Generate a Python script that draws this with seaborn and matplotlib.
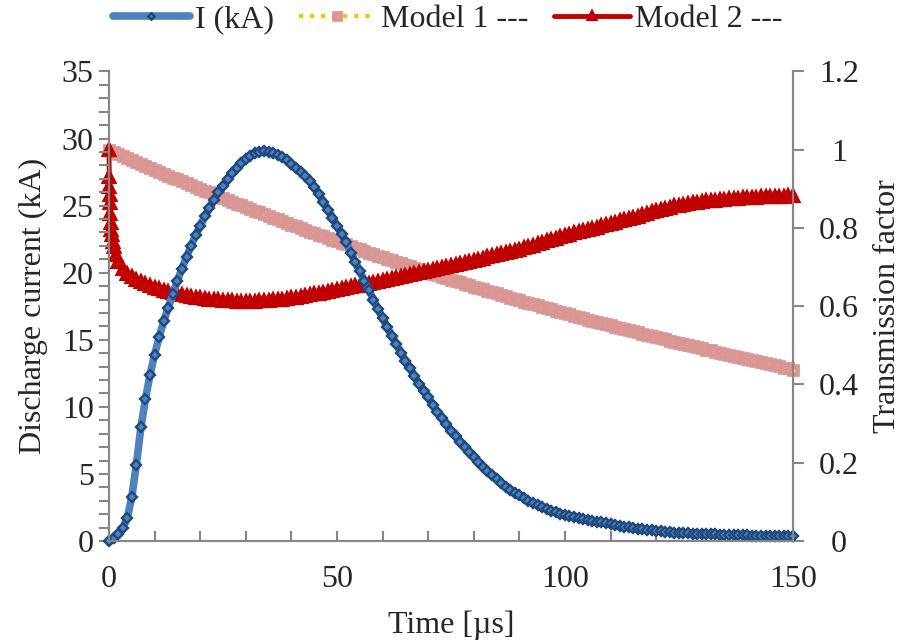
import numpy as np
import matplotlib
matplotlib.use('Agg')
import matplotlib.pyplot as plt
from matplotlib.ticker import MultipleLocator
import seaborn as sns

# time grid (us) and values
time_us = np.arange(0, 151)

current_ka = [0.00, 0.20, 0.50, 0.95, 1.70, 3.30, 5.70, 8.50, 10.60, 12.40,
              13.90, 15.20, 16.40, 17.40, 18.40, 19.40, 20.30, 21.20, 22.00, 22.80,
              23.50, 24.20, 24.80, 25.40, 26.00, 26.50, 27.00, 27.40, 27.80, 28.20,
              28.50, 28.70, 28.90, 29.00, 29.05, 29.00, 28.95, 28.80, 28.60, 28.40,
              28.10, 27.80, 27.50, 27.20, 26.85, 26.40, 25.90, 25.30, 24.70, 24.10,
              23.50, 22.90, 22.30, 21.50, 20.80, 20.10, 19.40, 18.70, 18.00, 17.30,
              16.60, 15.95, 15.30, 14.70, 14.05, 13.45, 12.90, 12.30, 11.70, 11.20,
              10.70, 10.15, 9.65, 9.20, 8.75, 8.20, 7.80, 7.40, 7.00, 6.60,
              6.25, 5.90, 5.55, 5.20, 4.90, 4.60, 4.30, 4.05, 3.80, 3.60,
              3.40, 3.20, 3.00, 2.80, 2.65, 2.50, 2.38, 2.26, 2.15, 2.05,
              1.96, 1.87, 1.79, 1.71, 1.64, 1.57, 1.50, 1.44, 1.38, 1.32,
              1.25, 1.19, 1.13, 1.08, 1.03, 0.98, 0.93, 0.88, 0.84, 0.80,
              0.76, 0.72, 0.68, 0.65, 0.63, 0.61, 0.59, 0.57, 0.55, 0.53,
              0.52, 0.51, 0.50, 0.49, 0.48, 0.47, 0.46, 0.45, 0.44, 0.43,
              0.42, 0.41, 0.41, 0.40, 0.40, 0.39, 0.39, 0.38, 0.38, 0.37, 0.37]

model1 = [1.000, 0.995, 0.990, 0.984, 0.979, 0.974, 0.969, 0.964, 0.958, 0.953,
          0.948, 0.943, 0.938, 0.933, 0.929, 0.924, 0.919, 0.914, 0.909, 0.905,
          0.900, 0.895, 0.891, 0.886, 0.881, 0.877, 0.872, 0.867, 0.862, 0.858,
          0.853, 0.849, 0.844, 0.840, 0.835, 0.831, 0.826, 0.822, 0.817, 0.813,
          0.808, 0.804, 0.800, 0.795, 0.791, 0.787, 0.783, 0.779, 0.774, 0.770,
          0.766, 0.762, 0.758, 0.754, 0.750, 0.746, 0.741, 0.737, 0.733, 0.729,
          0.725, 0.721, 0.717, 0.713, 0.710, 0.706, 0.702, 0.698, 0.694, 0.690,
          0.686, 0.682, 0.679, 0.675, 0.672, 0.668, 0.664, 0.661, 0.657, 0.654,
          0.650, 0.647, 0.643, 0.640, 0.636, 0.633, 0.629, 0.626, 0.622, 0.619,
          0.615, 0.612, 0.608, 0.605, 0.602, 0.599, 0.595, 0.592, 0.589, 0.585,
          0.582, 0.579, 0.576, 0.573, 0.569, 0.566, 0.563, 0.560, 0.557, 0.554,
          0.551, 0.548, 0.545, 0.542, 0.539, 0.536, 0.533, 0.530, 0.527, 0.524,
          0.521, 0.518, 0.515, 0.512, 0.509, 0.507, 0.504, 0.501, 0.498, 0.495,
          0.492, 0.489, 0.487, 0.484, 0.481, 0.479, 0.476, 0.473, 0.470, 0.468,
          0.465, 0.462, 0.460, 0.457, 0.454, 0.452, 0.449, 0.446, 0.443, 0.441, 0.438]

# model 2 is sampled more finely right after t=0
time_model2 = np.concatenate([[0, 0.05, 0.1, 0.15, 0.2, 0.3, 0.4, 0.5, 0.6, 0.8, 1.0, 1.5],
                              np.arange(2, 151)])
model2 = [1.000, 0.930, 0.905, 0.885, 0.865, 0.835, 0.812, 0.795, 0.782, 0.765, 0.752, 0.730,
          0.713, 0.695, 0.683, 0.674, 0.667, 0.661, 0.656, 0.651,
          0.647, 0.643, 0.640, 0.636, 0.633, 0.631, 0.628, 0.626, 0.624, 0.622,
          0.620, 0.619, 0.617, 0.616, 0.615, 0.614, 0.613, 0.613, 0.612, 0.612,
          0.612, 0.612, 0.612, 0.613, 0.613, 0.614, 0.615, 0.616, 0.617, 0.618,
          0.620, 0.622, 0.624, 0.626, 0.628, 0.630, 0.632, 0.634, 0.637, 0.639,
          0.642, 0.644, 0.646, 0.649, 0.651, 0.653, 0.656, 0.658, 0.660, 0.663,
          0.665, 0.667, 0.670, 0.672, 0.675, 0.677, 0.680, 0.682, 0.685, 0.687,
          0.690, 0.693, 0.695, 0.698, 0.700, 0.703, 0.706, 0.708, 0.711, 0.713,
          0.716, 0.719, 0.722, 0.725, 0.728, 0.730, 0.733, 0.736, 0.739, 0.742,
          0.745, 0.748, 0.752, 0.755, 0.759, 0.762, 0.766, 0.769, 0.773, 0.776,
          0.780, 0.783, 0.786, 0.789, 0.792, 0.795, 0.798, 0.801, 0.804, 0.807,
          0.810, 0.813, 0.817, 0.820, 0.823, 0.826, 0.829, 0.833, 0.836, 0.840,
          0.843, 0.846, 0.849, 0.852, 0.855, 0.857, 0.859, 0.861, 0.863, 0.865,
          0.866, 0.868, 0.869, 0.870, 0.871, 0.872, 0.873, 0.874, 0.875, 0.876,
          0.876, 0.877, 0.877, 0.878, 0.878, 0.879, 0.879, 0.880, 0.880, 0.881, 0.881]

sns.set_theme(style='white')
plt.rcParams['font.family'] = ['Liberation Serif', 'DejaVu Serif']
FS = 23
axis_grey = '#868686'

fig = plt.figure(figsize=(9.01, 6.41), dpi=100)
ax = fig.add_axes([0.121, 0.156, 0.759, 0.7325])
ax2 = ax.twinx()

# transmission factors (right axis)
sns.lineplot(x=time_us, y=model1, ax=ax2, color='#FFC000', linestyle=':', linewidth=3,
             marker='s', markersize=6, markerfacecolor='#FAC090', markeredgecolor='#D99694',
             markeredgewidth=3.4, label='Model 1 ---', clip_on=False)
sns.lineplot(x=time_model2, y=model2, ax=ax2, color='#C00000', linewidth=3.5,
             marker='^', markersize=6.5, markerfacecolor='#FF0000', markeredgecolor='#C00000',
             markeredgewidth=3, label='Model 2 ---', clip_on=False)

# discharge current (left axis), drawn on top
sns.lineplot(x=time_us, y=current_ka, ax=ax, color='#4F81BD', linewidth=5.5,
             marker='D', markersize=5, markerfacecolor='#4F81BD', markeredgecolor='#1F497D',
             markeredgewidth=1.7, label='I (kA)', clip_on=False)

ax.set_zorder(ax2.get_zorder() + 1)
ax.patch.set_visible(False)

ax.set_xlim(0, 150)
ax.set_ylim(0, 35)
ax2.set_ylim(0, 1.2)

ax.xaxis.set_major_locator(MultipleLocator(50))
ax.xaxis.set_minor_locator(MultipleLocator(10))
ax.yaxis.set_major_locator(MultipleLocator(5))
ax.yaxis.set_minor_locator(MultipleLocator(1))
ax2.yaxis.set_major_locator(MultipleLocator(0.2))
ax2.yaxis.set_major_formatter(plt.FuncFormatter(lambda v, p: f'{v:g}'))

for a in (ax, ax2):
    for s in a.spines.values():
        s.set_color(axis_grey)
        s.set_linewidth(1.5)
    a.spines['top'].set_visible(False)
    a.grid(False)

ax.tick_params(axis='x', which='both', direction='in', color=axis_grey, width=1.5,
               length=7, labelsize=FS, pad=17, bottom=True)
ax.tick_params(axis='y', which='both', direction='out', color=axis_grey, width=1.5,
               length=7, labelsize=FS, pad=4, left=True)
ax2.tick_params(axis='y', which='major', direction='out', color=axis_grey, width=1.5,
                length=8, labelsize=FS, pad=25, right=True)
for lbl in ax2.get_yticklabels():
    lbl.set_horizontalalignment('center')

ax.set_xlabel('Time [µs]', fontsize=FS, labelpad=12)
ax.set_ylabel('Discharge current (kA)', fontsize=FS, labelpad=10)
ax2.set_ylabel('Transmission factor', fontsize=FS, labelpad=10)

h1, l1 = ax.get_legend_handles_labels()
h2, l2 = ax2.get_legend_handles_labels()
for a in (ax, ax2):
    if a.get_legend() is not None:
        a.get_legend().remove()
fig.legend(h1 + h2, l1 + l2, loc='center', bbox_to_anchor=(0.497, 0.970), ncol=3,
           frameon=False, fontsize=FS, handlelength=2.4, handletextpad=0.15,
           columnspacing=0.8, numpoints=1, markerscale=0.65, borderaxespad=0)

fig.savefig('out.png', dpi=100)
